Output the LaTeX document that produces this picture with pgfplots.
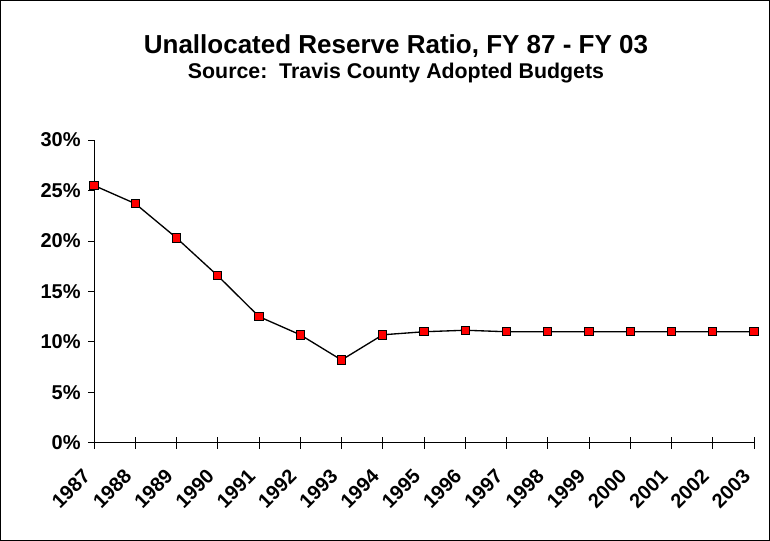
\documentclass[border=0pt]{standalone}
\usepackage{fontspec}
\setmainfont{Liberation Sans}
\usepackage{pgfplots}
\pgfplotsset{compat=1.18}
\begin{document}
\begin{tikzpicture}
\useasboundingbox (0pt,0pt) rectangle (577.5pt,405.75pt);
\draw[line width=0.7pt] (0.45pt,0.45pt) rectangle (577.05pt,405.3pt);
\node[anchor=base, font=\bfseries\fontsize{19.5pt}{22pt}\selectfont] at (297pt,365.25pt) {Unallocated Reserve Ratio, FY 87 - FY 03};
\node[anchor=base, font=\bfseries\fontsize{16pt}{18pt}\selectfont] at (297pt,346.5pt) {Source:\ \ Travis County Adopted Budgets};
\begin{axis}[
  at={(70.5pt,73.7pt)}, anchor=south west,
  scale only axis, width=495pt, height=227pt,
  xmin=1987, xmax=2003, ymin=0, ymax=30,
  axis lines=left, axis line style={-, line width=0.6pt},
  xtick={1987,...,2003}, ytick={0,5,...,30},
  tick align=center, major tick length=9pt,
  x tick style={line width=0.6pt, black},
  y tick style={draw=none},
  /pgf/number format/assume math mode=true,
  /pgf/number format/1000 sep={},
  yticklabel={\pgfmathprintnumber{\tick}\%},
  ticklabel style={font=\bfseries\fontsize{15pt}{17pt}\selectfont},
  yticklabel style={xshift=-2pt},
  xticklabel style={xshift=-3pt, yshift=-15.5pt, rotate=45, anchor=east},
  clip=false,
]
\pgfplotsinvokeforeach{0,5,10,15,20,25,30}{\draw[line width=0.6pt] (axis cs:1987,#1) -- ++(-4.5pt,0pt);}
\addplot[black, line width=1pt, mark=square*, mark size=3.1pt, mark options={fill=red, draw=black, line width=0.6pt}]
coordinates {
(1987,25.5) (1988,23.7) (1989,20.3) (1990,16.55) (1991,12.5) (1992,10.7)
(1993,8.2) (1994,10.7) (1995,11.0) (1996,11.15) (1997,11.0) (1998,11.0)
(1999,11.0) (2000,11.0) (2001,11.0) (2002,11.0) (2003,11.0)
};
\end{axis}
\end{tikzpicture}
\end{document}
